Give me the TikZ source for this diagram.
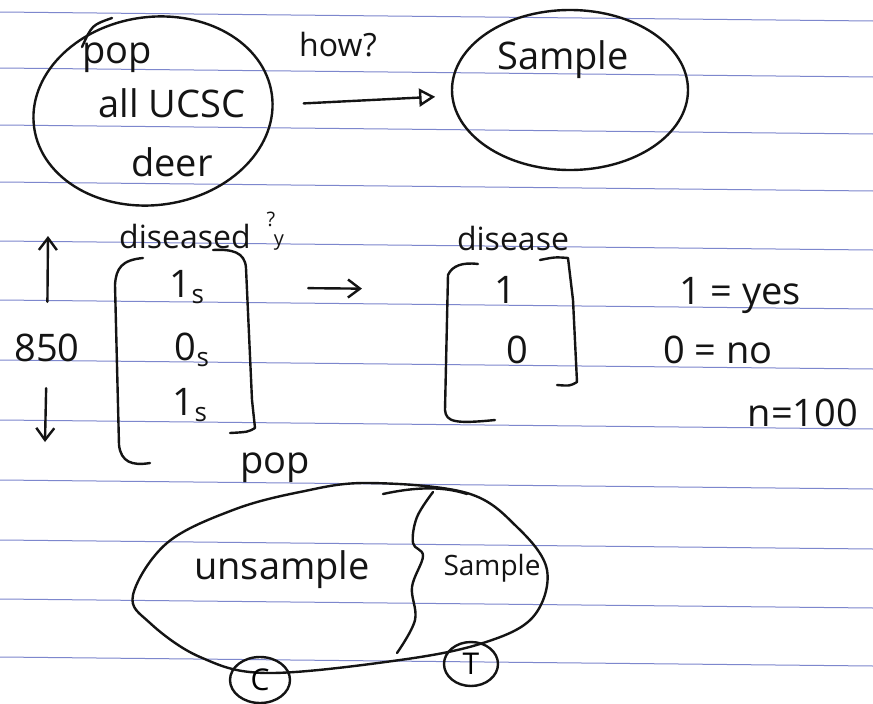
\documentclass[tikz,border=0pt]{standalone}
\usepackage{fontspec}
\setmainfont{Open Sans}
\usetikzlibrary{arrows.meta,shapes.geometric}
\definecolor{ink}{RGB}{20,20,20}
\definecolor{rule}{RGB}{125,135,205}
\tikzset{
  x=1pt,y=-1pt,
  pen/.style={draw=ink,line width=2.4pt,line cap=round,line join=round},
  ruled/.style={draw=rule,line width=1pt},
  big/.style={text=ink,inner sep=0pt,font=\fontsize{38}{40}\selectfont},
  mid/.style={text=ink,inner sep=0pt,font=\fontsize{32}{34}\selectfont},
  sml/.style={text=ink,inner sep=0pt,font=\fontsize{28}{30}\selectfont},
  tiny/.style={text=ink,inner sep=0pt,font=\fontsize{20}{20}\selectfont},
  arr/.style={pen,-{Straight Barb[length=12pt,width=18pt,line width=2.4pt]}},
  oarr/.style={pen,-{Triangle[open,length=16pt,width=18pt,line width=2.4pt]}},
}
\newcommand{\subs}[1]{#1{\fontsize{26}{28}\selectfont\raisebox{-0.25em}{s}}}
\begin{document}
\begin{tikzpicture}
\useasboundingbox[fill=white] (0,0) rectangle (873,704);
% ruled paper lines
\foreach \yy in {12,68,125,182,241,300,360,420,480,540,599,657}
  \draw[ruled] (0,\yy) -- (873,\yy+9);

% ---- top: population -> sample
\node[pen,ellipse,minimum width=240pt,minimum height=188pt,rotate=8] (popE) at (153,111) {};
\draw[pen] (82,47) .. controls (92,25) .. (112,18);
\node[big] (popT) at (117,58) {pop};
\node[big] (ucsc) at (172,103) {all UCSC};
\node[big] (deer) at (172,162) {deer};

\node[pen,ellipse,minimum width=236pt,minimum height=160pt] (sampE) at (570,90) {};
\node[big] (sampT) at (563,60) {Sample};

\node[mid] (how) at (338,45) {how?};
\draw[oarr,shorten <=30pt,shorten >=16pt] (popE) -- (sampE);

% ---- middle: data vectors
\node[mid] (dis) at (185,236) {diseased};
\node[tiny] (qm) at (271,219) {?};
\node[tiny] (qy) at (279,243) {y};

\coordinate (uptip) at (48,236);
\coordinate (dntip) at (45,442);
\node[big] (n850) at (47,348) {850};
\draw[arr,shorten <=32pt] (n850) -- (uptip);
\draw[arr,shorten <=26pt] (n850) -- (dntip);

% left bracket vector
\draw[pen] (143,258) .. controls (122,260) and (116,268) .. (115,285) -- (119,445) .. controls (121,462) and (132,466) .. (150,463);
\draw[pen] (213,250) .. controls (232,249) and (245,252) .. (246,268) -- (252,400) -- (255,428) .. controls (248,432) .. (230,433);
\node[big] (e1) at (187,287) {\subs{1}};
\node[big] (e2) at (192,350) {\subs{0}};
\node[big] (e3) at (190,405) {\subs{1}};

% right bracket vector
\node[mid] (dis2) at (513,238) {disease};
\draw[pen] (478,264) .. controls (462,262) and (452,266) .. (448,275) -- (445,410) .. controls (446,422) and (455,424) .. (495,420);
\draw[pen] (540,260) .. controls (555,257) .. (568,258) -- (573,300) -- (577,382) .. controls (570,386) .. (557,385);
\node[big] (r1) at (505,290) {1};
\node[big] (r0) at (517,350) {0};

\draw[arr,shorten <=104pt,shorten >=132pt] (e1) -- (r1);

\node[big] (yes) at (740,295) {1 = yes};
\node[big] (no) at (718,350) {0 = no};
\node[big] (n100) at (803,413) {n=100};

% ---- bottom: population split
\node[big] (popB) at (275,468) {pop};
\draw[pen] plot[smooth cycle,tension=0.6] coordinates {
 (133,595) (167,543) (233,510) (300,492) (367,483) (467,493) (517,527)
 (547,570) (533,617) (483,643) (400,660) (267,673) (200,657) (150,623)};
\draw[pen] (383,494) .. controls (420,486) and (445,487) .. (467,494);
\draw[pen] plot[smooth,tension=0.6] coordinates {
 (433,492) (417,517) (413,543) (423,556) (412,587) (415,620) (397,653)};
\node[big] (uns) at (282,570) {unsample};
\node[sml] (smp) at (492,568) {Sample};

\node[pen,ellipse,minimum width=60pt,minimum height=46pt,inner sep=0pt,font=\fontsize{30}{30}\selectfont] (cc) at (260,680) {C};
\node[pen,ellipse,minimum width=54pt,minimum height=44pt,inner sep=0pt,font=\fontsize{30}{30}\selectfont] (tt) at (471,664) {T};
\end{tikzpicture}
\end{document}
